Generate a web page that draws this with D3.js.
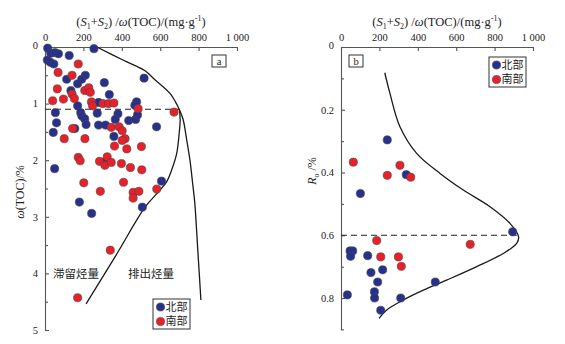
<!DOCTYPE html>
<html>
<head>
<meta charset="utf-8">
<script src="https://cdn.jsdelivr.net/npm/d3@7"></script>
<style>
  body { margin: 0; background: #fff; }
  svg text { fill: #222; }
</style>
</head>
<body>
<script>
// hydrocarbon content (S1+S2)/TOC vs TOC (panel a) and vs Ro (panel b)
var northA = [[14,0.02],[255,0.03],[30,0.11],[52,0.1],[70,0.12],[126,0.15],[12,0.23],[28,0.27],[46,0.3],
  [113,0.57],[210,0.5],[191,0.57],[170,0.65],[135,0.77],[309,0.63],[335,0.84],[516,0.55],[279,0.98],
  [477,0.97],[468,1.03],[170,1.04],[54,1.16],[186,1.16],[192,1.22],[207,1.27],[214,1.37],[272,1.17],
  [380,1.18],[366,1.28],[436,1.3],[472,1.28],[482,1.2],[581,1.41],[60,1.34],[43,1.51],[155,1.44],
  [279,1.38],[315,1.38],[359,1.58],[311,2.03],[50,2.15],[607,2.37],[179,2.74],[243,2.94],[507,2.83]];
var southA = [[173,0.3],[68,0.45],[141,0.5],[64,0.74],[141,0.83],[207,0.77],[228,0.72],[236,0.8],
  [40,0.95],[96,0.92],[153,0.91],[242,0.97],[248,1.04],[302,1.0],[331,1.0],[359,0.99],[485,1.09],
  [672,1.15],[144,1.44],[345,1.42],[386,1.41],[402,1.48],[417,1.62],[402,1.65],[100,1.62],[208,1.62],
  [362,1.75],[426,1.8],[502,1.76],[173,1.95],[183,2.01],[324,1.94],[284,2.02],[312,2.09],[345,2.04],
  [398,2.06],[445,2.13],[504,2.17],[202,2.4],[409,2.39],[288,2.55],[459,2.57],[489,2.55],[459,2.67],
  [582,2.51],[340,3.59],[170,4.43]];
var totalCurveA = [[270,0],[406,0.23],[521,0.42],[570,0.57],[651,0.82],[689,1.03],[705,1.15],[720,1.29],
  [738,1.64],[755,2.0],[769,2.41],[780,2.75],[796,3.6],[812,4.47]];
var retainCurveA = [[700,1.1],[704,1.29],[699,1.52],[686,1.88],[660,2.17],[634,2.38],[580,2.6],
  [521,2.83],[368,3.69],[214,4.54]];
var thresholdA = 1.1;

var northB = [[241,0.296],[340,0.407],[101,0.467],[894,0.589],[47,0.65],[61,0.65],[50,0.667],
  [139,0.665],[217,0.71],[156,0.719],[191,0.749],[491,0.749],[174,0.78],[175,0.8],[311,0.8],
  [33,0.79],[207,0.839]];
var southB = [[64,0.367],[307,0.377],[241,0.409],[363,0.415],[186,0.617],[673,0.629],[207,0.669],
  [299,0.669],[314,0.699]];
var curveB = [[228,0.082],[255,0.148],[307,0.254],[394,0.339],[516,0.403],[637,0.456],[776,0.509],
  [880,0.562],[925,0.605],[915,0.626],[845,0.658],[707,0.7],[550,0.743],[429,0.775],[325,0.806],
  [238,0.838],[198,0.865]];
var thresholdB = 0.6;

var xTicks = [0,200,400,600,800,1000];
var legendNames = ["北部","南部"];
var colors = {north: "#27318d", south: "#e8202a"};

var svg = d3.select("body").append("svg")
  .attr("width", 565).attr("height", 344);

var serif = "'Liberation Serif','Times New Roman',serif";
var cjk = "'Noto Sans CJK SC',sans-serif";
var dotR = 4.1;

function fmt(d){ return d === 1000 ? "1 000" : d; }

// axis title with italic symbols and sub/superscripts
function xTitle(g, cx){
  var t = g.append("text").attr("x", cx).attr("y", 26).attr("text-anchor", "middle")
    .style("font-family", serif).style("font-size", "12.5px");
  t.append("tspan").text("(");
  t.append("tspan").style("font-style", "italic").text("S");
  t.append("tspan").attr("dy", 3).style("font-size", "8px").text("1");
  t.append("tspan").attr("dy", -3).text("+");
  t.append("tspan").style("font-style", "italic").text("S");
  t.append("tspan").attr("dy", 3).style("font-size", "8px").text("2");
  t.append("tspan").attr("dy", -3).text(") /");
  t.append("tspan").style("font-style", "italic").text("ω");
  t.append("tspan").text("(TOC)/(mg·g");
  t.append("tspan").attr("dy", -5).style("font-size", "8px").text("-1");
  t.append("tspan").attr("dy", 5).text(")");
}

function styleAxis(g){
  g.selectAll("path,line").attr("stroke", "#555").attr("stroke-width", 1.1);
  g.selectAll("text").style("font-family", serif).style("font-size", "10.5px").attr("fill", "#1f2a55");
}

function drawPanel(opt){
  var g = svg.append("g");
  var x = d3.scaleLinear().domain([0,1000]).range(opt.xr);
  var y = d3.scaleLinear().domain(opt.yd).range([47, opt.yBottom]);

  var xa = g.append("g").attr("transform", "translate(0,47)")
    .call(d3.axisTop(x).tickValues(xTicks).tickFormat(fmt).tickSizeInner(-4).tickSizeOuter(0).tickPadding(6));
  styleAxis(xa);

  var ya = g.append("g").attr("transform", "translate(" + opt.xr[0] + ",0)")
    .call(d3.axisLeft(y).tickValues(opt.major).tickFormat(opt.yFmt).tickSizeInner(-4).tickSizeOuter(0).tickPadding(7));
  styleAxis(ya);
  ya.selectAll(".tick").filter(function(d){ return d === 0; }).select("text").attr("dy", "0.1em");
  var ym = g.append("g").attr("transform", "translate(" + opt.xr[0] + ",0)")
    .call(d3.axisLeft(y).tickValues(opt.minor).tickFormat("").tickSize(-3));
  ym.select(".domain").remove();
  styleAxis(ym);

  xTitle(g, (opt.xr[0] + opt.xr[1]) / 2);

  // dashed threshold line
  g.append("line")
    .attr("x1", x(0)).attr("x2", x(opt.dashEnd))
    .attr("y1", y(opt.threshold)).attr("y2", y(opt.threshold))
    .attr("stroke", "#222").attr("stroke-width", 1.1).attr("stroke-dasharray", "6,4");

  var line = d3.line().x(function(d){ return x(d[0]); }).y(function(d){ return y(d[1]); })
    .curve(d3.curveCatmullRom.alpha(0.5));
  opt.curves.forEach(function(c){
    g.append("path").datum(c).attr("d", line)
      .attr("fill", "none").attr("stroke", "#1a1a1a").attr("stroke-width", 1.3);
  });

  [[opt.north, colors.north], [opt.south, colors.south]].forEach(function(s){
    g.append("g").selectAll("circle").data(s[0]).enter().append("circle")
      .attr("cx", function(d){ return x(d[0]); })
      .attr("cy", function(d){ return y(d[1]); })
      .attr("r", dotR)
      .attr("fill", s[1]).attr("stroke", "#444").attr("stroke-width", 0.6);
  });

  // panel tag box
  var tag = g.append("g").attr("transform", "translate(" + opt.tag[0] + "," + opt.tag[1] + ")");
  tag.append("rect").attr("x", -7).attr("y", -6).attr("width", 14).attr("height", 12)
    .attr("fill", "#fff").attr("stroke", "#333").attr("stroke-width", 1);
  tag.append("text").attr("text-anchor", "middle").attr("dy", "0.35em")
    .style("font-family", serif).style("font-size", "10.5px").text(opt.tagText);

  // legend
  var lg = g.append("g").attr("transform", "translate(" + opt.legend[0] + "," + opt.legend[1] + ")");
  lg.append("rect").attr("width", 37).attr("height", 30)
    .attr("fill", "#fff").attr("stroke", "#333").attr("stroke-width", 1);
  [colors.north, colors.south].forEach(function(c, i){
    lg.append("circle").attr("cx", 7.5).attr("cy", 8 + i * 14.5).attr("r", dotR)
      .attr("fill", c).attr("stroke", "#444").attr("stroke-width", 0.6);
    lg.append("text").attr("x", 12.5).attr("y", 8 + i * 14.5).attr("dy", "0.36em")
      .style("font-family", cjk).style("font-size", "11px").attr("fill", "#1f2a55").text(legendNames[i]);
  });
  return {g: g, x: x, y: y};
}

var pa = drawPanel({
  xr: [45,237], yd: [0,5], yBottom: 330,
  major: [0,1,2,3,4,5], minor: [0.5,1.5,2.5,3.5,4.5], yFmt: function(d){ return d; },
  threshold: thresholdA, dashEnd: 699,
  curves: [totalCurveA, retainCurveA],
  north: northA, south: southA,
  tag: [219,61], tagText: "a", legend: [153,299]
});

var pb = drawPanel({
  xr: [341,533], yd: [0,0.9], yBottom: 329.4,
  major: [0,0.2,0.4,0.6,0.8], minor: [0.1,0.3,0.5,0.7,0.9], yFmt: function(d){ return d === 0 ? "0" : d.toFixed(1); },
  threshold: thresholdB, dashEnd: 915,
  curves: [curveB],
  north: northB, south: southB,
  tag: [356,61], tagText: "b", legend: [489,57]
});

// region labels in panel a
pa.g.append("text").attr("x", 76).attr("y", 278).attr("text-anchor", "middle")
  .style("font-family", cjk).style("font-size", "11.5px").attr("fill", "#1f2a55").text("滞留烃量");
pa.g.append("text").attr("x", 151).attr("y", 278).attr("text-anchor", "middle")
  .style("font-family", cjk).style("font-size", "11.5px").attr("fill", "#1f2a55").text("排出烃量");

// y axis titles
var ta = svg.append("text").attr("transform", "translate(24,192) rotate(-90)").attr("text-anchor", "middle")
  .style("font-family", serif).style("font-size", "12px");
ta.append("tspan").style("font-style", "italic").text("ω");
ta.append("tspan").text("(TOC)/%");

var tb = svg.append("text").attr("transform", "translate(316,171) rotate(-90)").attr("text-anchor", "middle")
  .style("font-family", serif).style("font-size", "12px");
tb.append("tspan").style("font-style", "italic").text("R");
tb.append("tspan").attr("dy", 3).style("font-size", "8px").text("o");
tb.append("tspan").attr("dy", -3).text(" /%");
</script>
</body>
</html>
